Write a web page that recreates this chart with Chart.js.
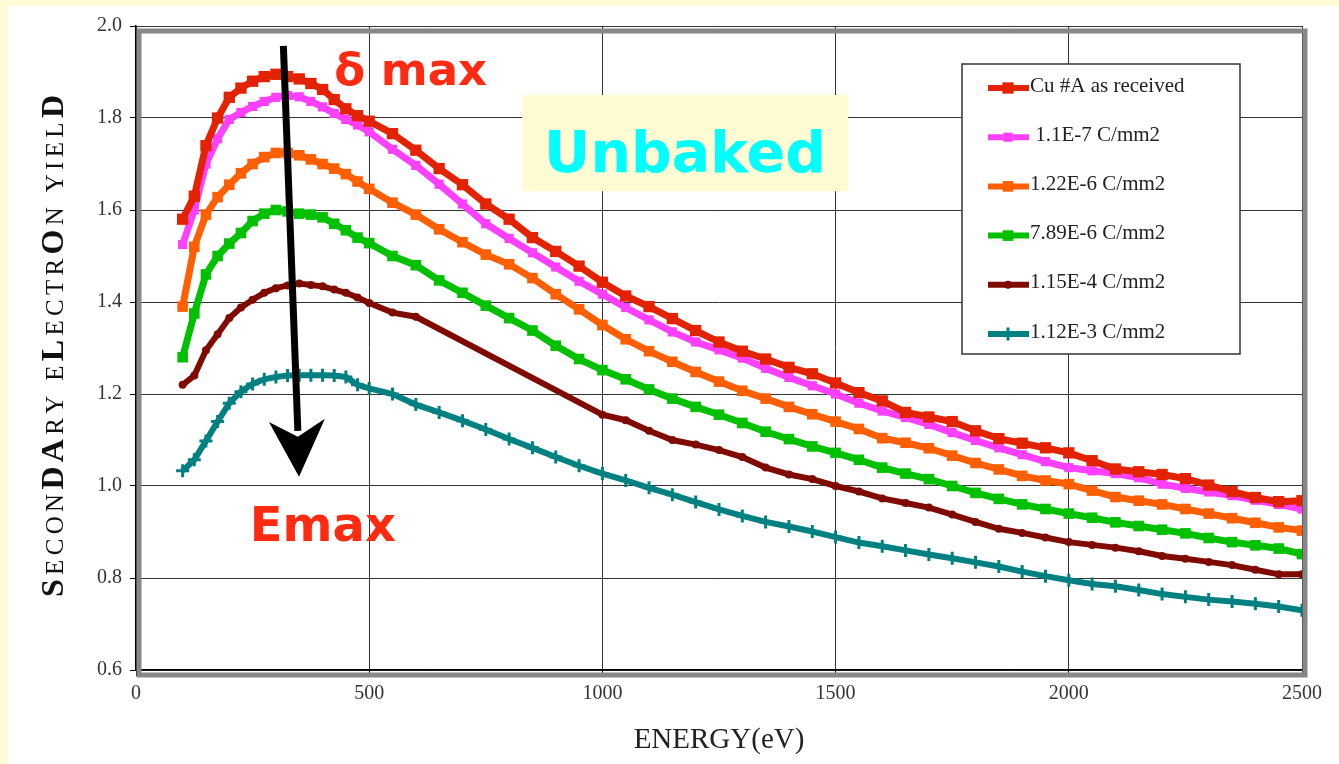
<!DOCTYPE html>
<html>
<head>
<meta charset="utf-8">
<script src="https://cdn.jsdelivr.net/npm/chart.js@4.4.0/dist/chart.umd.min.js"></script>
<style>
  html, body { margin: 0; padding: 0; background: #fffbd6; }
  #caja { position: absolute; left: 0; top: 0; width: 1339px; height: 764px; }
</style>
</head>
<body>
<div id="caja"><canvas id="rendimiento" width="1339" height="764"></canvas></div>
<script>
// Energia primaria (eV)
const energia = [100, 125, 150, 175, 200, 225, 250, 275, 300, 325, 350, 375, 400, 425, 450, 475, 500,
  550, 600, 650, 700, 750, 800, 850, 900, 950, 1000, 1050, 1100, 1150, 1200, 1250, 1300, 1350, 1400, 1450, 1500,
  1550, 1600, 1650, 1700, 1750, 1800, 1850, 1900, 1950, 2000, 2050, 2100, 2150, 2200, 2250, 2300, 2350, 2400, 2450, 2500];

const cuRecibido = [1.58, 1.63, 1.74, 1.80, 1.845, 1.865, 1.88, 1.89, 1.895, 1.89, 1.885, 1.875, 1.862, 1.84, 1.82, 1.805, 1.793,
  1.766, 1.73, 1.69, 1.655, 1.613, 1.58, 1.54, 1.51, 1.478, 1.443, 1.413, 1.39, 1.364, 1.338, 1.313, 1.293, 1.276, 1.258, 1.244, 1.224,
  1.203, 1.185, 1.16, 1.15, 1.14, 1.12, 1.103, 1.093, 1.083, 1.072, 1.055, 1.037, 1.031, 1.025, 1.016, 1.002, 0.988, 0.975, 0.966, 0.968];

const dosis1 = [1.525, 1.60, 1.70, 1.755, 1.797, 1.812, 1.825, 1.836, 1.845, 1.849, 1.846, 1.836, 1.824, 1.81, 1.797, 1.785, 1.77,
  1.732, 1.697, 1.656, 1.613, 1.57, 1.538, 1.507, 1.476, 1.445, 1.417, 1.388, 1.361, 1.335, 1.313, 1.296, 1.278, 1.256, 1.236, 1.218, 1.20,
  1.18, 1.163, 1.149, 1.134, 1.116, 1.099, 1.083, 1.068, 1.053, 1.04, 1.033, 1.027, 1.018, 1.004, 0.995, 0.987, 0.979, 0.969, 0.96, 0.95];

const dosis2 = [1.39, 1.52, 1.59, 1.628, 1.655, 1.68, 1.70, 1.715, 1.724, 1.724, 1.719, 1.71, 1.70, 1.69, 1.678, 1.662, 1.646,
  1.616, 1.59, 1.558, 1.53, 1.503, 1.482, 1.452, 1.417, 1.384, 1.35, 1.319, 1.293, 1.27, 1.248, 1.227, 1.207, 1.19, 1.172, 1.156, 1.14,
  1.124, 1.104, 1.094, 1.082, 1.066, 1.05, 1.036, 1.022, 1.012, 1.004, 0.99, 0.976, 0.968, 0.96, 0.95, 0.94, 0.93, 0.92, 0.91, 0.903];

const dosis3 = [1.28, 1.375, 1.46, 1.50, 1.527, 1.55, 1.576, 1.592, 1.60, 1.597, 1.592, 1.59, 1.584, 1.57, 1.556, 1.54, 1.528,
  1.50, 1.48, 1.447, 1.42, 1.392, 1.365, 1.338, 1.305, 1.276, 1.252, 1.232, 1.21, 1.19, 1.172, 1.155, 1.137, 1.118, 1.102, 1.086, 1.072,
  1.057, 1.04, 1.027, 1.015, 1.0, 0.985, 0.972, 0.96, 0.95, 0.94, 0.931, 0.921, 0.913, 0.905, 0.897, 0.887, 0.878, 0.871, 0.864, 0.852];

// sin medidas entre 650 y 950 eV: la linea une los extremos
const dosis4 = [1.22, 1.24, 1.295, 1.33, 1.365, 1.388, 1.405, 1.42, 1.43, 1.436, 1.44, 1.437, 1.434, 1.427, 1.42, 1.41, 1.398,
  1.377, 1.368, null, null, null, null, null, null, null, 1.155, 1.143, 1.12, 1.10, 1.09, 1.078, 1.063, 1.04, 1.025, 1.015, 1.0,
  0.988, 0.973, 0.963, 0.953, 0.938, 0.922, 0.907, 0.898, 0.888, 0.878, 0.872, 0.866, 0.858, 0.848, 0.842, 0.835, 0.828, 0.818, 0.808, 0.808];

const dosis5 = [1.033, 1.057, 1.098, 1.14, 1.18, 1.205, 1.222, 1.232, 1.237, 1.24, 1.241, 1.241, 1.241, 1.24, 1.237, 1.22, 1.212,
  1.20, 1.177, 1.16, 1.142, 1.123, 1.102, 1.083, 1.063, 1.044, 1.027, 1.012, 0.996, 0.981, 0.965, 0.949, 0.935, 0.922, 0.912, 0.901, 0.889,
  0.877, 0.869, 0.86, 0.851, 0.843, 0.834, 0.825, 0.814, 0.804, 0.795, 0.787, 0.782, 0.774, 0.765, 0.759, 0.753, 0.749, 0.744, 0.738, 0.73];

const etiquetas = ['Cu #A as received', ' 1.1E-7 C/mm2', '1.22E-6 C/mm2', '7.89E-6 C/mm2', '1.15E-4 C/mm2', '1.12E-3 C/mm2'];
const colores = ['#e22200', '#ff40ff', '#ff5f00', '#00c000', '#7f0a00', '#008080'];
const ticksX = [0, 500, 1000, 1500, 2000, 2500];
const ticksY = [0.6, 0.8, 1.0, 1.2, 1.4, 1.6, 1.8, 2.0];

function puntos(valores) {
  return energia.map((e, i) => ({ x: e, y: valores[i] }));
}

function serie(i, valores, estilo, radio, grosor) {
  return {
    label: etiquetas[i],
    data: puntos(valores),
    borderColor: colores[i],
    backgroundColor: colores[i],
    borderWidth: grosor,
    pointStyle: estilo,
    pointRadius: radio,
    pointBorderWidth: estilo === 'cross' ? 3 : 0,
    pointBackgroundColor: colores[i],
    pointBorderColor: colores[i],
    tension: 0,
    spanGaps: true
  };
}

const serif = '"Liberation Serif", "Times New Roman", serif';

// fondo amarillo y hoja blanca
const fondo = {
  id: 'fondo',
  beforeDraw(chart) {
    const ctx = chart.ctx;
    ctx.save();
    ctx.fillStyle = '#fffbd6';
    ctx.fillRect(0, 0, chart.width, chart.height);
    ctx.fillStyle = '#ffffff';
    ctx.fillRect(8, 6, chart.width - 8, chart.height - 6);
    ctx.restore();
  }
};

// marco gris, leyenda y anotaciones
const extras = {
  id: 'extras',
  afterDatasetsDraw(chart) {
    const { ctx, chartArea: a, scales: { x, y } } = chart;
    ctx.save();

    ctx.strokeStyle = '#878787';
    ctx.lineWidth = 5;
    ctx.strokeRect(a.left + 3, a.top + 5, a.right - a.left, a.bottom - a.top);

    // leyenda
    const lx = 962, ly = 64, lw = 278, lh = 290;
    ctx.fillStyle = '#ffffff';
    ctx.fillRect(lx, ly, lw, lh);
    ctx.strokeStyle = '#333';
    ctx.lineWidth = 1.5;
    ctx.strokeRect(lx, ly, lw, lh);
    ctx.font = '21px ' + serif;
    ctx.textBaseline = 'middle';
    ctx.textAlign = 'left';
    chart.data.datasets.forEach((ds, i) => {
      const cy = 86 + i * 49.2;
      ctx.strokeStyle = ds.borderColor;
      ctx.lineWidth = Math.min(ds.borderWidth, 6);
      ctx.beginPath();
      ctx.moveTo(988, cy + 2);
      ctx.lineTo(1029, cy + 2);
      ctx.stroke();
      ctx.fillStyle = ds.borderColor;
      ctx.strokeStyle = ds.borderColor;
      ctx.lineWidth = ds.pointBorderWidth;
      Chart.helpers.drawPoint(ctx, {
        pointStyle: ds.pointStyle, radius: ds.pointRadius, rotation: 0, borderWidth: ds.pointBorderWidth
      }, 1008, cy + 2);
      ctx.fillStyle = '#222';
      ctx.fillText(ds.label, 1030, cy);
    });

    // recuadro "Unbaked"
    const bx0 = x.getPixelForValue(828), bx1 = x.getPixelForValue(1527);
    const by0 = y.getPixelForValue(1.85), by1 = y.getPixelForValue(1.641);
    ctx.fillStyle = '#fffbd2';
    ctx.fillRect(bx0, by0, bx1 - bx0, by1 - by0);
    ctx.fillStyle = '#00ffff';
    ctx.font = 'bold 57px "DejaVu Sans", sans-serif';
    ctx.textBaseline = 'alphabetic';
    ctx.fillText('Unbaked', x.getPixelForValue(875), y.getPixelForValue(1.683));

    ctx.fillStyle = '#ff2a12';
    ctx.font = 'bold 45px "DejaVu Sans", sans-serif';
    ctx.fillText('δ max', x.getPixelForValue(425), y.getPixelForValue(1.872));
    ctx.font = 'bold 48px "DejaVu Sans", sans-serif';
    ctx.fillText('Emax', x.getPixelForValue(244), y.getPixelForValue(0.88));

    // flecha
    ctx.strokeStyle = '#000';
    ctx.fillStyle = '#000';
    ctx.lineWidth = 7;
    ctx.beginPath();
    ctx.moveTo(x.getPixelForValue(316), y.getPixelForValue(1.957));
    ctx.lineTo(x.getPixelForValue(347), y.getPixelForValue(1.12));
    ctx.stroke();
    ctx.beginPath();
    ctx.moveTo(x.getPixelForValue(349.5), y.getPixelForValue(1.02));
    ctx.lineTo(x.getPixelForValue(285), y.getPixelForValue(1.139));
    ctx.lineTo(x.getPixelForValue(347), y.getPixelForValue(1.107));
    ctx.lineTo(x.getPixelForValue(405), y.getPixelForValue(1.146));
    ctx.closePath();
    ctx.fill();
    ctx.restore();
  },
  afterDraw(chart) {
    // titulo del eje Y con versalitas mezcladas
    const ctx = chart.ctx;
    const trozos = [
      ['S', 1], ['ECON', 0], ['DA', 1], ['RY', 0], [' ', 0],
      ['E', 0], ['L', 1], ['ECTR', 0], ['O', 1], ['N', 0], [' ', 0],
      ['YIEL', 0], ['D', 1]
    ];
    const fuentes = ['25px ' + serif, 'bold 32px ' + serif];
    const letras = [];
    trozos.forEach(([t, g]) => { for (const c of t) letras.push([c, g]); });
    ctx.save();
    let total = 0;
    letras.forEach(([c, g]) => { ctx.font = fuentes[g]; total += ctx.measureText(c).width; });
    const hueco = (502 - total) / (letras.length - 1);
    ctx.translate(63, 597);
    ctx.rotate(-Math.PI / 2);
    ctx.fillStyle = '#111';
    ctx.textBaseline = 'alphabetic';
    let pos = 0;
    letras.forEach(([c, g]) => {
      ctx.font = fuentes[g];
      ctx.fillText(c, pos, 0);
      pos += ctx.measureText(c).width + hueco;
    });
    ctx.restore();
  }
};

const configuracion = {
  type: 'line',
  data: {
    datasets: [
      serie(0, cuRecibido, 'rect', 8, 7),
      serie(1, dosis1, 'rect', 6.5, 7),
      serie(2, dosis2, 'rect', 7.5, 7),
      serie(3, dosis3, 'rect', 7.5, 7),
      serie(4, dosis4, 'circle', 4, 6),
      serie(5, dosis5, 'cross', 6.5, 6)
    ]
  },
  options: {
    responsive: false,
    animation: false,
    layout: { padding: { top: 26, right: 37, left: 0, bottom: 0 } },
    scales: {
      x: {
        type: 'linear',
        min: 0,
        max: 2500,
        afterFit: s => { s.height = 94; },
        afterBuildTicks: s => { s.ticks = ticksX.map(v => ({ value: v })); },
        ticks: {
          callback: v => String(v),
          font: { family: serif, size: 20 },
          color: '#333',
          padding: 6,
          maxRotation: 0
        },
        grid: { color: '#333', lineWidth: 1, tickLength: 6, tickColor: '#000' },
        border: { color: '#000', width: 1.5 },
        title: {
          display: true,
          text: 'ENERGY(eV)',
          font: { family: serif, size: 29 },
          color: '#222',
          padding: { top: 4, bottom: 6 }
        }
      },
      y: {
        min: 0.6,
        max: 2.0,
        afterFit: s => { s.width = 136; },
        afterBuildTicks: s => { s.ticks = ticksY.map(v => ({ value: v })); },
        ticks: {
          callback: v => v.toFixed(1),
          font: { family: serif, size: 20 },
          color: '#333',
          padding: 8
        },
        grid: { color: '#333', lineWidth: 1, tickLength: 6, tickColor: '#000' },
        border: { color: '#000', width: 1.5 }
      }
    },
    plugins: {
      legend: { display: false },
      tooltip: { enabled: false }
    }
  },
  plugins: [fondo, extras]
};

const ctxRend = document.getElementById('rendimiento').getContext('2d');
var graficoRend = new Chart(ctxRend, configuracion);
</script>
</body>
</html>
